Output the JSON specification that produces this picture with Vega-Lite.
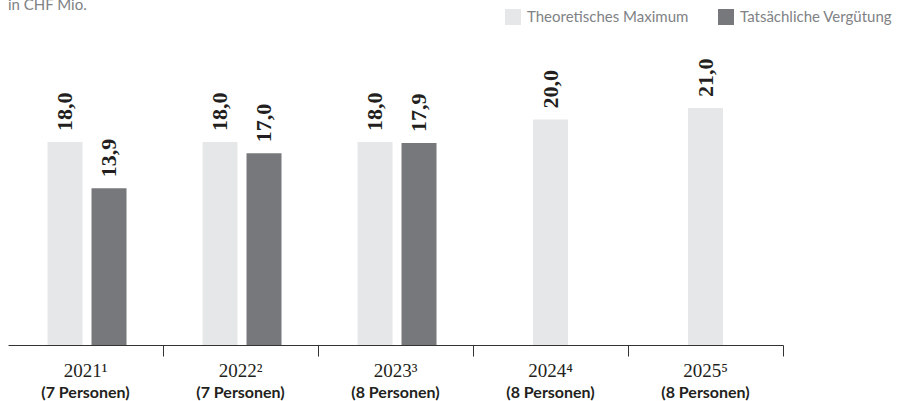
{
  "$schema": "https://vega.github.io/schema/vega-lite/v6.json",
  "autosize": "none",
  "width": 775,
  "height": 282,
  "padding": {"left": 8, "top": 63, "right": 118, "bottom": 56},
  "background": "white",
  "title": {
    "text": "in CHF Mio.",
    "anchor": "start",
    "frame": "group",
    "font": "Lato",
    "fontSize": 15,
    "fontWeight": "normal",
    "color": "#808285",
    "offset": -4
  },
  "config": {
    "view": {"stroke": null},
    "locale": {"number": {"decimal": ",", "thousands": ".", "grouping": [3], "currency": ["", " CHF"]}}
  },
  "data": {
    "values": [
      {"Jahr": "2021", "Typ": "Theoretisches Maximum", "Wert": 18.0},
      {"Jahr": "2021", "Typ": "Tatsächliche Vergütung", "Wert": 13.9},
      {"Jahr": "2022", "Typ": "Theoretisches Maximum", "Wert": 18.0},
      {"Jahr": "2022", "Typ": "Tatsächliche Vergütung", "Wert": 17.0},
      {"Jahr": "2023", "Typ": "Theoretisches Maximum", "Wert": 18.0},
      {"Jahr": "2023", "Typ": "Tatsächliche Vergütung", "Wert": 17.9},
      {"Jahr": "2024", "Typ": "Theoretisches Maximum", "Wert": 20.0},
      {"Jahr": "2025", "Typ": "Theoretisches Maximum", "Wert": 21.0}
    ]
  },
  "resolve": {"axis": {"x": "independent"}},
  "layer": [
    {
      "transform": [{"filter": {"field": "Jahr", "oneOf": ["2021", "2022", "2023"]}}],
      "mark": {"type": "bar"},
      "encoding": {
        "x": {
          "field": "Jahr", "type": "nominal",
          "scale": {"domain": ["2021", "2022", "2023", "2024", "2025"], "paddingInner": 0, "paddingOuter": 0},
          "axis": {
            "orient": "bottom",
            "title": null,
            "bandPosition": 1,
            "labelAngle": 0,
            "domain": true, "domainColor": "#333333", "domainWidth": 1,
            "ticks": true, "tickSize": 11, "tickColor": "#333333", "tickWidth": 1,
            "grid": false,
            "labelFont": "Liberation Serif", "labelFontSize": 19, "labelColor": "#231f20",
            "labelPadding": 5,
            "labelExpr": "datum.value == '2021' ? '2021¹' : datum.value == '2022' ? '2022²' : datum.value == '2023' ? '2023³' : datum.value == '2024' ? '2024⁴' : '2025⁵'"
          }
        },
        "xOffset": {
          "field": "Typ", "type": "nominal",
          "scale": {"domain": ["Theoretisches Maximum", "Tatsächliche Vergütung"], "paddingInner": 0.2045, "paddingOuter": 0.864, "align": 0.52}
        },
        "y": {"field": "Wert", "type": "quantitative", "scale": {"domain": [0, 25], "nice": false}, "axis": null},
        "color": {
          "field": "Typ", "type": "nominal",
          "scale": {"domain": ["Theoretisches Maximum", "Tatsächliche Vergütung"], "range": ["#e6e7e8", "#77787b"]},
          "legend": {
            "title": null,
            "orient": "none",
            "legendX": 497,
            "legendY": -54,
            "direction": "horizontal",
            "symbolType": "square",
            "symbolSize": 256,
            "symbolStrokeWidth": 0,
            "labelFont": "Lato",
            "labelFontSize": 15,
            "labelColor": "#808285",
            "labelOffset": 6,
            "columnPadding": 29,
            "labelLimit": 300
          }
        }
      }
    },
    {
      "transform": [{"filter": {"field": "Jahr", "oneOf": ["2021", "2022", "2023"]}}],
      "mark": {"type": "text", "angle": 270, "align": "left", "baseline": "middle", "dx": 11, "font": "Liberation Serif", "fontWeight": "bold", "fontSize": 22, "color": "#231f20"},
      "encoding": {
        "x": {"field": "Jahr", "type": "nominal", "axis": null},
        "xOffset": {"field": "Typ", "type": "nominal"},
        "y": {"field": "Wert", "type": "quantitative", "axis": null},
        "text": {"field": "Wert", "type": "quantitative", "format": ".1f"}
      }
    },
    {
      "transform": [{"filter": {"field": "Jahr", "oneOf": ["2024", "2025"]}}],
      "mark": {"type": "bar", "size": 35},
      "encoding": {
        "x": {
          "field": "Jahr", "type": "nominal",
          "axis": {
            "orient": "bottom",
            "title": null,
            "labelAngle": 0,
            "domain": false, "ticks": false, "grid": false,
            "labelFont": "Lato", "labelFontSize": 16, "labelFontWeight": "bold", "labelColor": "#231f20",
            "labelPadding": 39,
            "labelExpr": "(datum.value == '2021' || datum.value == '2022') ? '(7 Personen)' : '(8 Personen)'"
          }
        },
        "y": {"field": "Wert", "type": "quantitative", "axis": null},
        "color": {"field": "Typ", "type": "nominal"}
      }
    },
    {
      "transform": [{"filter": {"field": "Jahr", "oneOf": ["2024", "2025"]}}],
      "mark": {"type": "text", "angle": 270, "align": "left", "baseline": "middle", "dx": 11, "font": "Liberation Serif", "fontWeight": "bold", "fontSize": 22, "color": "#231f20"},
      "encoding": {
        "x": {"field": "Jahr", "type": "nominal", "axis": null},
        "y": {"field": "Wert", "type": "quantitative", "axis": null},
        "text": {"field": "Wert", "type": "quantitative", "format": ".1f"}
      }
    }
  ]
}
